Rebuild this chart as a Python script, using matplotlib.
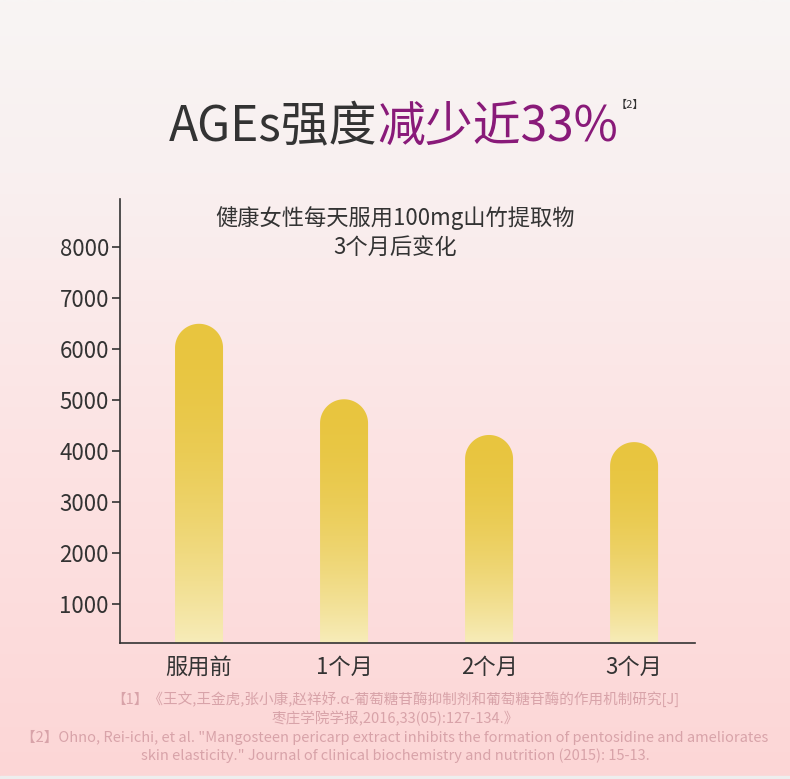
import numpy as np
import matplotlib
matplotlib.use("Agg")
import matplotlib.pyplot as plt
from matplotlib.colors import to_rgb, LinearSegmentedColormap
from matplotlib.patches import Polygon, Rectangle

plt.rcParams['font.family'] = ['Noto Sans CJK SC', 'DejaVu Sans']

# ---------------- data ----------------
categories = ["服用前", "1个月", "2个月", "3个月"]
values = [6500, 5020, 4320, 4180]
yticks = [1000, 2000, 3000, 4000, 5000, 6000, 7000, 8000]
title_dark = "AGEs强度"
title_purple = "减少近33%"
title_sup = "【2】"
note_lines = ["健康女性每天服用100mg山竹提取物", "3个月后变化"]
refs = [
    "【1】《王文,王金虎,张小康,赵祥妤.α-葡萄糖苷酶抑制剂和葡萄糖苷酶的作用机制研究[J]",
    "枣庄学院学报,2016,33(05):127-134.》",
    "【2】Ohno, Rei-ichi, et al. \"Mangosteen pericarp extract inhibits the formation of pentosidine and ameliorates",
    "skin elasticity.\" Journal of clinical biochemistry and nutrition (2015): 15-13.",
]

W, H = 790, 779
fig = plt.figure(figsize=(W / 100, H / 100), dpi=100)

# background gradient
bg = fig.add_axes([0, 0, 1, 1], zorder=-10)
bg.set_axis_off()
cmap_bg = LinearSegmentedColormap.from_list(
    "bg", [(0.0, "#f8f5f4"), (0.22, "#f9f0f0"), (0.55, "#fce4e4"), (1.0, "#fdd6d6")])
grad = np.linspace(0, 1, 512).reshape(-1, 1)
bg.imshow(grad, aspect='auto', cmap=cmap_bg, extent=[0, 1, 0, 1], origin='upper')
bg.add_patch(Rectangle((0, 0), 1, 3 / H, color="#eeeeee", transform=bg.transAxes))
bg.set_xlim(0, 1); bg.set_ylim(0, 1)

# main axes
left, right, top, bottom = 120, 695, 199, 643
ax = fig.add_axes([left / W, 1 - bottom / H, (right - left) / W, (bottom - top) / H])
ax.patch.set_alpha(0)
ax.set_xlim(-0.545, 3.42)
ax.set_ylim(241, 8947)
ax.spines['top'].set_visible(False)
ax.spines['right'].set_visible(False)
for s in ['left', 'bottom']:
    ax.spines[s].set_color('#333333')
    ax.spines[s].set_linewidth(1.2)
ax.set_yticks(yticks)
ax.set_yticklabels([str(v) for v in yticks])
ax.tick_params(axis='y', length=6, width=1.2, color='#333333', pad=2,
               labelsize=16, labelcolor='#333333')
x = np.arange(len(categories))
ax.set_xticks(x)
ax.set_xticklabels(categories)
ax.tick_params(axis='x', length=0, pad=9, labelsize=16, labelcolor='#333333')

# bars with rounded tops and vertical gradient
bw = 0.331
ymin = ax.get_ylim()[0]
p0 = ax.transData.transform((0, 0))
p1 = ax.transData.transform((bw, 1000))
r_px = (p1[0] - p0[0]) / 2
ry = r_px * 1000 / (p1[1] - p0[1])
top_c = np.array(to_rgb("#e8c53f"))
bot_c = np.array(to_rgb("#f7ecb9"))
for xi, v in zip(x, values):
    yc = v - ry
    th = np.linspace(0, np.pi, 80)
    arc = np.column_stack([xi + bw / 2 * np.cos(th), yc + ry * np.sin(th)])
    verts = np.vstack([[xi - bw / 2, ymin], [xi + bw / 2, ymin], arc])
    poly = Polygon(verts, closed=True, facecolor='none', edgecolor='none', transform=ax.transData)
    ax.add_patch(poly)
    t = np.linspace(0, 1, 256) ** 1.9  # 0 at top, 1 at bottom
    cols = top_c[None, :] * (1 - t[:, None]) + bot_c[None, :] * t[:, None]
    img = ax.imshow(cols[:, None, :], extent=[xi - bw / 2, xi + bw / 2, ymin, v],
                    origin='upper', aspect='auto', zorder=2)
    img.set_clip_path(poly)
ax.set_xlim(-0.545, 3.42)
ax.set_ylim(241, 8947)

# note text
fig.text(395 / W, 1 - 218 / H, note_lines[0], ha='center', va='center', fontsize=16, color='#333333')
fig.text(395 / W, 1 - 247 / H, note_lines[1], ha='center', va='center', fontsize=16, color='#333333')

# title
renderer = fig.canvas.get_renderer()
t1 = fig.text(169 / W, 1 - 141 / H, title_dark, ha='left', va='baseline', fontsize=34.5, color='#333333')
bb = t1.get_window_extent(renderer)
t2 = fig.text(bb.x1 / W, 1 - 141 / H, title_purple, ha='left', va='baseline', fontsize=34.5, color='#891a79')
bb2 = t2.get_window_extent(renderer)
fig.text(bb2.x1 / W - 3 / W, 1 - 100 / H, title_sup, ha='left', va='top', fontsize=8, color='#333333')

# references
ref_y = [699, 718, 737, 756]
ref_col = '#d8a3a9'
for line, yy in zip(refs, ref_y):
    fig.text(395 / W, 1 - yy / H, line, ha='center', va='center', fontsize=10.5, color=ref_col)

fig.savefig("out.png", dpi=100)
